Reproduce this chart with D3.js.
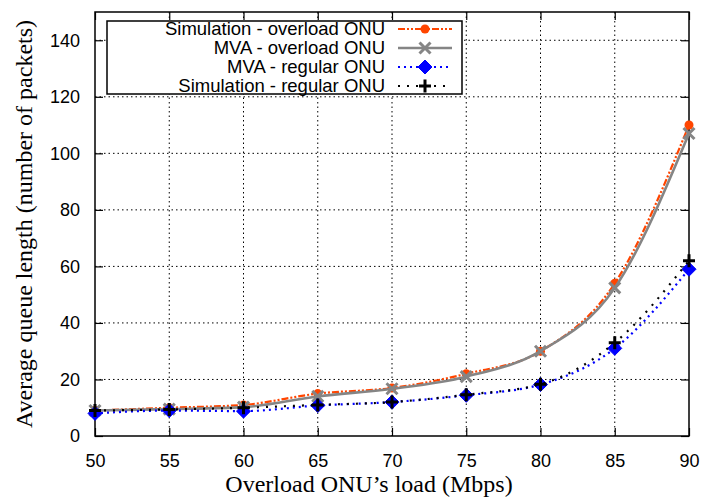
<!DOCTYPE html>
<html>
<head>
<meta charset="utf-8">
<script src="https://cdn.jsdelivr.net/npm/d3@7"></script>
<style>
  body { margin: 0; background: #fff; }
  svg text { fill: #000; }
</style>
</head>
<body>
<div id="chart"></div>
<script>
// data
const loads = [50, 55, 60, 65, 70, 75, 80, 85, 90];
const simOverload = [9, 10, 11, 15, 17, 22, 30, 54, 110];
const mvaOverload = [9, 9.5, 10.2, 14, 16.7, 21, 30, 52.4, 107];
const mvaRegular = [8, 9, 8.8, 10.8, 12, 14.4, 18.2, 31, 59];
const simRegular = [9, 9.4, 10, 11, 12, 14.6, 18.3, 33, 62];
const xTicks = [50, 55, 60, 65, 70, 75, 80, 85, 90];
const yTicks = [0, 20, 40, 60, 80, 100, 120, 140];

const width = 702, height = 497;
const margin = { top: 12, right: 13, bottom: 61, left: 95 };
const innerW = width - margin.left - margin.right;
const innerH = height - margin.top - margin.bottom;

const svg = d3.select('#chart').append('svg')
    .attr('width', width)
    .attr('height', height);

const g = svg.append('g')
    .attr('transform', `translate(${margin.left},${margin.top})`);

const x = d3.scaleLinear().domain([50, 90]).range([0, innerW]);
const y = d3.scaleLinear().domain([0, 150]).range([innerH, 0]);

// grid
g.append('g').selectAll('line')
    .data(xTicks.slice(1, -1))
    .join('line')
    .attr('x1', d => x(d)).attr('x2', d => x(d))
    .attr('y1', 0).attr('y2', innerH)
    .attr('stroke', '#000').attr('stroke-width', 1)
    .attr('stroke-dasharray', '1.5,3');
g.append('g').selectAll('line')
    .data(yTicks.slice(1))
    .join('line')
    .attr('x1', 0).attr('x2', innerW)
    .attr('y1', d => y(d)).attr('y2', d => y(d))
    .attr('stroke', '#000').attr('stroke-width', 1)
    .attr('stroke-dasharray', '1.5,3');

// axes (ticks inward, mirrored)
const tickFont = '18px "Liberation Sans", Arial, sans-serif';
const xAxis = g.append('g')
    .attr('transform', `translate(0,${innerH})`)
    .call(d3.axisBottom(x).tickValues(xTicks).tickSizeInner(-8).tickSizeOuter(0).tickPadding(18));
const yAxis = g.append('g')
    .call(d3.axisLeft(y).tickValues(yTicks).tickSizeInner(-8).tickSizeOuter(0).tickPadding(15));
const xTop = g.append('g')
    .call(d3.axisTop(x).tickValues(xTicks).tickSizeInner(-8).tickSizeOuter(0).tickFormat(''));
const yRight = g.append('g')
    .attr('transform', `translate(${innerW},0)`)
    .call(d3.axisRight(y).tickValues(yTicks).tickSizeInner(-8).tickSizeOuter(0).tickFormat(''));

[xAxis, yAxis, xTop, yRight].forEach(a => {
    a.select('.domain').remove();
    a.selectAll('line').attr('stroke', '#000').attr('stroke-width', 1.2);
    a.selectAll('text').style('font', tickFont).attr('fill', '#000');
});

g.append('rect')
    .attr('width', innerW).attr('height', innerH)
    .attr('fill', 'none').attr('stroke', '#000').attr('stroke-width', 1.5);

// series
const series = [
    { name: 'Simulation - overload ONU', values: simOverload, color: '#ff4500', width: 2.2, dash: '7,2,2,2,2,2', marker: 'circle' },
    { name: 'MVA - overload ONU', values: mvaOverload, color: '#858585', width: 2.6, dash: null, marker: 'cross' },
    { name: 'MVA - regular ONU', values: mvaRegular, color: '#0000ff', width: 2.2, dash: '2,4', marker: 'diamond' },
    { name: 'Simulation - regular ONU', values: simRegular, color: '#000000', width: 2.2, dash: '2,7', marker: 'plus' }
];

const line = d3.line()
    .x((d, i) => x(loads[i]))
    .y(d => y(d))
    .curve(d3.curveMonotoneX);

function drawMarker(sel, s, cx, cy) {
    const p = sel.append('path')
        .attr('transform', `translate(${cx},${cy})`);
    if (s.marker === 'circle') {
        p.attr('d', d3.symbol().type(d3.symbolCircle).size(64)()).attr('fill', s.color);
    } else if (s.marker === 'diamond') {
        p.attr('d', 'M0,-7L7,0L0,7L-7,0Z')
            .attr('fill', s.color).attr('stroke', s.color).attr('stroke-width', 1);
    } else if (s.marker === 'cross') {
        p.attr('d', 'M-5.5,-5.5L5.5,5.5M-5.5,5.5L5.5,-5.5')
            .attr('fill', 'none').attr('stroke', s.color).attr('stroke-width', 3);
    } else {
        p.attr('d', 'M-6,0H6M0,-6.5V6.5')
            .attr('fill', 'none').attr('stroke', s.color).attr('stroke-width', 3);
    }
}

series.forEach(s => {
    g.append('path')
        .datum(s.values)
        .attr('d', line)
        .attr('fill', 'none')
        .attr('stroke', s.color)
        .attr('stroke-width', s.width)
        .attr('stroke-dasharray', s.dash);
    const mg = g.append('g');
    s.values.forEach((v, i) => drawMarker(mg, s, x(loads[i]), y(v)));
});

// legend
const lg = svg.append('g').attr('transform', 'translate(107,21)');
lg.append('rect')
    .attr('width', 355).attr('height', 73)
    .attr('fill', '#fff').attr('stroke', '#000').attr('stroke-width', 1.5);
series.forEach((s, i) => {
    const cy = 8 + i * 19;
    lg.append('text')
        .attr('x', 278).attr('y', cy)
        .attr('dy', '0.35em')
        .attr('text-anchor', 'end')
        .style('font', '18.5px "Liberation Sans", Arial, sans-serif')
        .text(s.name);
    lg.append('line')
        .attr('x1', 291).attr('x2', 345)
        .attr('y1', cy).attr('y2', cy)
        .attr('stroke', s.color)
        .attr('stroke-width', s.width)
        .attr('stroke-dasharray', s.dash);
    drawMarker(lg, s, 318, cy);
});

// axis titles
svg.append('text')
    .attr('x', 369).attr('y', 492)
    .attr('text-anchor', 'middle')
    .style('font', '24px "Liberation Serif", "Times New Roman", serif')
    .text('Overload ONU\u2019s load (Mbps)');
svg.append('text')
    .attr('transform', `translate(32,${margin.top + innerH / 2}) rotate(-90)`)
    .attr('text-anchor', 'middle')
    .style('font', '24px "Liberation Serif", "Times New Roman", serif')
    .text('Average queue length (number of packets)');
</script>
</body>
</html>
